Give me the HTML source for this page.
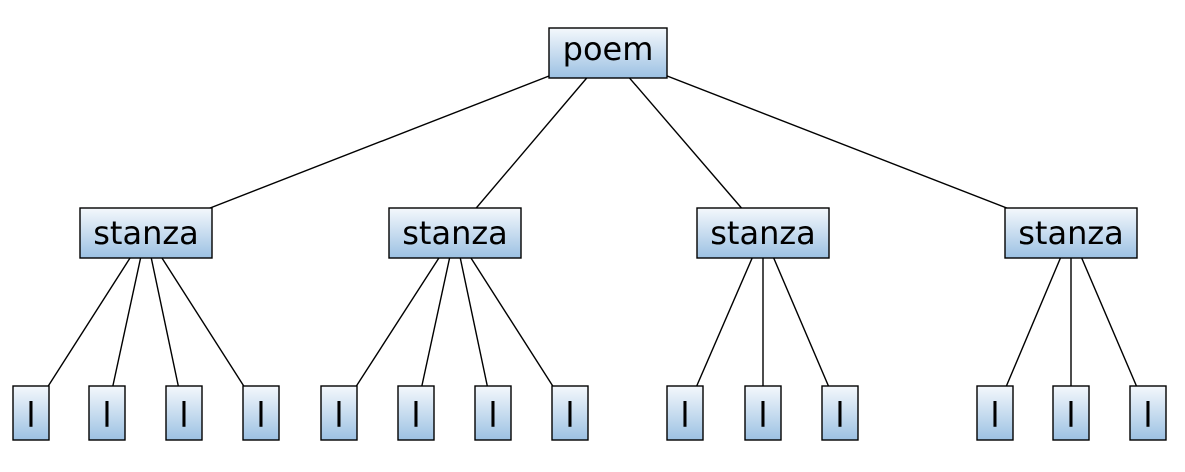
<!DOCTYPE html>
<html><head><meta charset="utf-8"><style>
html,body{margin:0;padding:0;background:#fff;width:1185px;height:472px;overflow:hidden}
text{font-family:"DejaVu Sans","Liberation Sans",sans-serif;fill:#000}
</style></head><body>
<svg width="1185" height="472" viewBox="0 0 1185 472" xmlns="http://www.w3.org/2000/svg">
<defs><linearGradient id="g" x1="0" y1="0" x2="0" y2="1">
<stop offset="0" stop-color="#f4f8fc"/><stop offset="1" stop-color="#9cc1e3"/></linearGradient></defs>
<g stroke="#000" stroke-width="1.4">
<line x1="608" y1="53" x2="146" y2="233"/>
<line x1="608" y1="53" x2="455" y2="233"/>
<line x1="608" y1="53" x2="763" y2="233"/>
<line x1="608" y1="53" x2="1071" y2="233"/>
<line x1="146" y1="233" x2="31" y2="413"/>
<line x1="146" y1="233" x2="107" y2="413"/>
<line x1="146" y1="233" x2="184" y2="413"/>
<line x1="146" y1="233" x2="261" y2="413"/>
<line x1="455" y1="233" x2="339" y2="413"/>
<line x1="455" y1="233" x2="416" y2="413"/>
<line x1="455" y1="233" x2="493" y2="413"/>
<line x1="455" y1="233" x2="570" y2="413"/>
<line x1="763" y1="233" x2="685" y2="413"/>
<line x1="763" y1="233" x2="763" y2="413"/>
<line x1="763" y1="233" x2="840" y2="413"/>
<line x1="1071" y1="233" x2="995" y2="413"/>
<line x1="1071" y1="233" x2="1071" y2="413"/>
<line x1="1071" y1="233" x2="1148" y2="413"/>
</g>
<g fill="url(#g)" stroke="#000" stroke-width="1.4">
<rect x="549" y="28" width="118" height="50"/>
<rect x="80" y="208" width="132" height="50"/>
<rect x="389" y="208" width="132" height="50"/>
<rect x="697" y="208" width="132" height="50"/>
<rect x="1005" y="208" width="132" height="50"/>
<rect x="13" y="386" width="36" height="54"/>
<rect x="89" y="386" width="36" height="54"/>
<rect x="166" y="386" width="36" height="54"/>
<rect x="243" y="386" width="36" height="54"/>
<rect x="321" y="386" width="36" height="54"/>
<rect x="398" y="386" width="36" height="54"/>
<rect x="475" y="386" width="36" height="54"/>
<rect x="552" y="386" width="36" height="54"/>
<rect x="667" y="386" width="36" height="54"/>
<rect x="745" y="386" width="36" height="54"/>
<rect x="822" y="386" width="36" height="54"/>
<rect x="977" y="386" width="36" height="54"/>
<rect x="1053" y="386" width="36" height="54"/>
<rect x="1130" y="386" width="36" height="54"/>
</g>
<g font-size="32" text-anchor="middle">
<text x="608" y="60">poem</text>
<text x="146" y="244">stanza</text>
<text x="455" y="244">stanza</text>
<text x="763" y="244">stanza</text>
<text x="1071" y="244">stanza</text>
</g>
<g font-size="34" text-anchor="middle">
<text x="31" y="427">l</text><text x="107" y="427">l</text><text x="184" y="427">l</text><text x="261" y="427">l</text>
<text x="339" y="427">l</text><text x="416" y="427">l</text><text x="493" y="427">l</text><text x="570" y="427">l</text>
<text x="685" y="427">l</text><text x="763" y="427">l</text><text x="840" y="427">l</text>
<text x="995" y="427">l</text><text x="1071" y="427">l</text><text x="1148" y="427">l</text>
</g>
</svg>
</body></html>
